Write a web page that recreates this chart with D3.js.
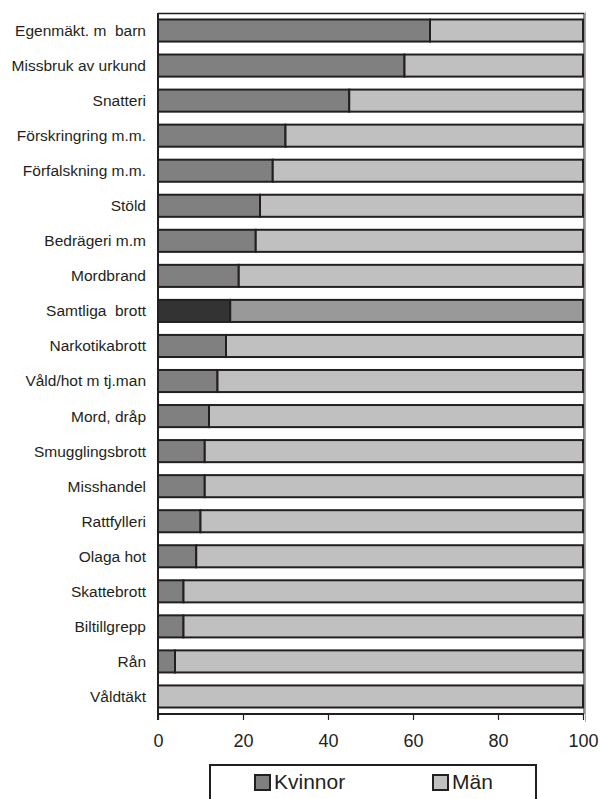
<!DOCTYPE html>
<html><head><meta charset="utf-8">
<script src="https://cdn.jsdelivr.net/npm/d3@7"></script>
<style>body{margin:0;background:#fff}svg{display:block}</style>
</head><body>
<svg id="c" width="600" height="799"></svg>
<script>
const categories = ["Egenmäkt. m  barn","Missbruk av urkund","Snatteri","Förskringring m.m.","Förfalskning m.m.","Stöld","Bedrägeri m.m","Mordbrand","Samtliga  brott","Narkotikabrott","Våld/hot m tj.man","Mord, dråp","Smugglingsbrott","Misshandel","Rattfylleri","Olaga hot","Skattebrott","Biltillgrepp","Rån","Våldtäkt"];
const kvinnor = [64,58,45,30,27,24,23,19,17,16,14,12,11,11,10,9,6,6,4,0];
const man = kvinnor.map(v => 100 - v);
const seriesNames = ["Kvinnor","Män"];
const xTicks = [0,20,40,60,80,100];

const svg = d3.select("#c");
const font = "Liberation Sans, Arial, sans-serif";
const x = d3.scaleLinear().domain([0,100]).range([158,583]);
const y = d3.scaleBand().domain(categories).range([13,714]).paddingInner(0.37).paddingOuter(0.185);

const colors = {Kvinnor:"#808080", "Män":"#c0c0c0"};
const special = {Kvinnor:"#333333", "Män":"#999999"};
const stroke = "#231f20";

// plot frame (top and right)
svg.append("line").attr("x1",x(0)).attr("x2",x(100)+1).attr("y1",13.5).attr("y2",13.5).attr("stroke",stroke).attr("stroke-width",1.5);
svg.append("line").attr("x1",x(100)+1).attr("x2",x(100)+1).attr("y1",13).attr("y2",714).attr("stroke",stroke).attr("stroke-width",1);
svg.append("line").attr("x1",x(100)+2.5).attr("x2",x(100)+2.5).attr("y1",12).attr("y2",722).attr("stroke","#aaa").attr("stroke-width",1);

const rows = categories.map((c,i)=>({c, k:kvinnor[i], m:man[i]}));
const g = svg.append("g");
rows.forEach(r=>{
  const isS = r.c.startsWith("Samtliga");
  const pal = isS ? special : colors;
  if (r.k > 0) {
    g.append("rect").attr("x",x(0)).attr("y",y(r.c)).attr("width",x(r.k)-x(0)).attr("height",y.bandwidth())
      .attr("fill",pal.Kvinnor).attr("stroke",stroke).attr("stroke-width",2);
  }
  g.append("rect").attr("x",x(r.k)).attr("y",y(r.c)).attr("width",x(100)-x(r.k)).attr("height",y.bandwidth())
    .attr("fill",pal["Män"]).attr("stroke",stroke).attr("stroke-width",2);
});

// category labels
svg.append("g").selectAll("text").data(categories).join("text")
  .attr("x",146).attr("y",d=>y(d)+y.bandwidth()/2).attr("dy","0.35em")
  .attr("text-anchor","end").attr("font-family",font).attr("font-size",15.5).attr("fill","#231f20")
  .style("white-space","pre").text(d=>d);

// left axis line
svg.append("line").attr("x1",x(0)).attr("x2",x(0)).attr("y1",13).attr("y2",720).attr("stroke",stroke).attr("stroke-width",2);

// bottom axis
const xa = svg.append("g").attr("transform","translate(0,714)")
  .call(d3.axisBottom(x).tickValues(xTicks).tickSize(6).tickPadding(14));
xa.select(".domain").attr("stroke",stroke).attr("stroke-width",2).attr("d",`M${x(0)},0H${x(100)+1}`);
xa.selectAll(".tick line").attr("stroke",stroke).attr("stroke-width",1.2);
xa.selectAll(".tick text").attr("font-family",font).attr("font-size",18).attr("fill","#231f20");

// legend
const lg = svg.append("g");
lg.append("rect").attr("x",210).attr("y",765).attr("width",326).attr("height",50).attr("fill","#fff").attr("stroke",stroke).attr("stroke-width",2);
const legX = [255,433];
seriesNames.forEach((s,i)=>{
  lg.append("rect").attr("x",legX[i]).attr("y",775).attr("width",15).attr("height",15).attr("fill",colors[s]).attr("stroke",stroke).attr("stroke-width",2);
  lg.append("text").attr("x",legX[i]+19).attr("y",782).attr("dy","0.35em").attr("font-family",font).attr("font-size",21).attr("fill","#231f20").text(s);
});
</script>
</body></html>
